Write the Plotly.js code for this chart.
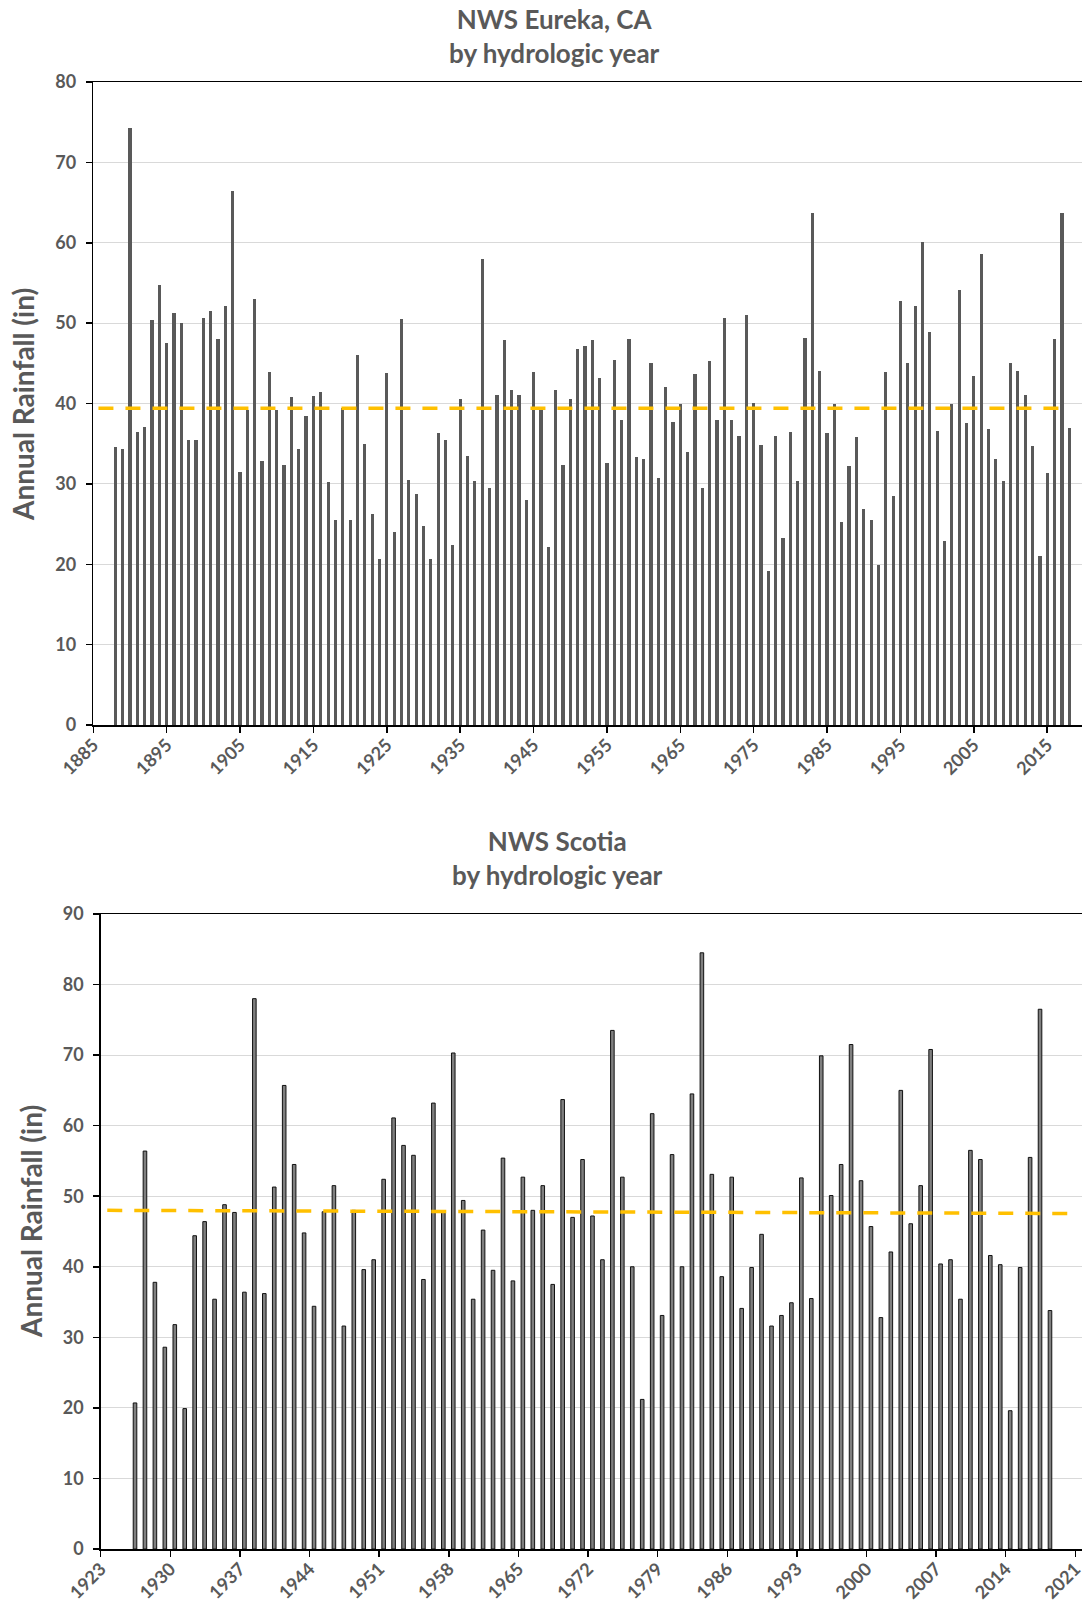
<!DOCTYPE html>
<html>
<head>
<meta charset="utf-8">
<script src="https://cdn.plot.ly/plotly-3.0.1.min.js"></script>
<style>
  html, body { margin: 0; padding: 0; background: #fff; }
  #chart { width: 1082px; height: 1606px; }
</style>
</head>
<body>
<div id="chart"></div>
<script>
// ---------- Data ----------
const eurekaYears = [];
for (let y = 1888; y <= 2018; y++) eurekaYears.push(y);
const eurekaRain = [
  34.6, 34.3, 74.3, 36.5, 37.1, 50.4, 54.7, 47.5, 51.2, 50.0,
  35.5, 35.5, 50.7, 51.5, 48.0, 52.1, 66.4, 31.5, 39.2, 53.0,
  32.8, 43.9, 39.2, 32.4, 40.8, 34.3, 38.4, 40.9, 41.4, 30.2,
  25.5, 39.4, 25.5, 46.0, 34.9, 26.3, 20.6, 43.8, 24.0, 50.5,
  30.5, 28.7, 24.7, 20.7, 36.3, 35.5, 22.4, 40.6, 33.5, 30.4,
  58.0, 29.5, 41.1, 47.9, 41.7, 41.1, 28.0, 43.9, 39.2, 22.1,
  41.7, 32.3, 40.6, 46.8, 47.2, 47.9, 43.2, 32.6, 45.4, 37.9,
  48.0, 33.4, 33.1, 45.0, 30.7, 42.1, 37.7, 40.0, 34.0, 43.7,
  29.5, 45.3, 38.0, 50.6, 38.0, 36.0, 51.0, 40.1, 34.8, 19.2,
  35.9, 23.3, 36.5, 30.3, 48.1, 63.7, 44.0, 36.3, 39.9, 25.3,
  32.2, 35.8, 26.9, 25.5, 19.9, 43.9, 28.5, 52.7, 45.0, 52.1,
  60.1, 48.9, 36.6, 22.9, 40.0, 54.1, 37.6, 43.4, 58.6, 36.8,
  33.1, 30.3, 45.0, 44.1, 41.0, 34.7, 21.0, 31.4, 48.0, 63.7,
  36.9
];
const eurekaAvgX = [1885.7, 2018.0];
const eurekaAvgY = [39.4, 39.4];

const scotiaYears = [];
for (let y = 1926; y <= 2018; y++) scotiaYears.push(y);
const scotiaRain = [
  20.7, 56.4, 37.8, 28.6, 31.8, 19.9, 44.4, 46.4, 35.4, 48.8,
  47.7, 36.4, 78.0, 36.2, 51.3, 65.7, 54.5, 44.8, 34.4, 47.8,
  51.5, 31.6, 48.0, 39.6, 41.0, 52.4, 61.1, 57.2, 55.8, 38.2,
  63.2, 47.7, 70.3, 49.4, 35.4, 45.2, 39.5, 55.4, 38.0, 52.7,
  48.0, 51.5, 37.5, 63.7, 47.0, 55.2, 47.2, 41.0, 73.5, 52.7,
  40.0, 21.2, 61.7, 33.1, 55.9, 40.0, 64.5, 84.5, 53.1, 38.6,
  52.7, 34.1, 39.9, 44.6, 31.6, 33.1, 34.9, 52.6, 35.5, 69.9,
  50.1, 54.5, 71.5, 52.2, 45.7, 32.8, 42.1, 65.0, 46.1, 51.5,
  70.8, 40.4, 41.0, 35.4, 56.5, 55.2, 41.6, 40.3, 19.6, 39.9,
  55.5, 76.5, 33.8
];
const scotiaTrendX = [1923.66, 2021.14];
const scotiaTrendY = [48.0, 47.55];

const titleTop = 'NWS Eureka, CA<br>by hydrologic year';
const titleBottom = 'NWS Scotia<br>by hydrologic year';
const yTitle = 'Annual Rainfall (in)';

// ---------- Styling ----------
const FONT = 'Lato, Roboto, "Noto Sans", sans-serif';
const GREY = '#595959';
const W = 1082, H = 1606;
const px = v => v / W;
const py = v => 1 - v / H;

const tickFont = {family: FONT, size: 18, color: GREY, weight: 'bold'};

function xAxis(domain, range, tick0, dtick, anchor) {
  return {
    domain, range, anchor,
    tickmode: 'linear', tick0, dtick,
    tickangle: -45, ticks: 'outside', ticklen: 6, tickwidth: 1.5, tickcolor: '#000',
    ticklabelstandoff: -5, ticklabeloverflow: 'allow',
    showline: true, linecolor: '#000', linewidth: 1.5, mirror: true,
    showgrid: false, zeroline: false,
    tickfont: tickFont, fixedrange: true
  };
}
function yAxis(domain, range, anchor) {
  return {
    domain, range, anchor,
    tickmode: 'linear', tick0: 0, dtick: 10,
    ticks: 'outside', ticklen: 6, tickwidth: 1.5, tickcolor: '#000',
    showline: true, linecolor: '#000', linewidth: 1.5,
    showgrid: true, gridcolor: '#d9d9d9', gridwidth: 1,
    zeroline: false, ticklabelstandoff: 6,
    tickfont: tickFont, fixedrange: true
  };
}

const traces = [
  {
    type: 'bar', x: eurekaYears, y: eurekaRain, xaxis: 'x', yaxis: 'y',
    width: 0.44, marker: {color: '#595959', line: {width: 0}},
    hoverinfo: 'x+y'
  },
  {
    type: 'scatter', mode: 'lines', x: eurekaAvgX, y: eurekaAvgY, xaxis: 'x', yaxis: 'y',
    line: {color: '#FFC000', width: 3.5, dash: '15px,12px'}, hoverinfo: 'skip'
  },
  {
    type: 'bar', x: scotiaYears, y: scotiaRain, xaxis: 'x2', yaxis: 'y2',
    width: 0.36, offset: 0.45 - 0.18,
    marker: {color: '#7f7f7f', line: {color: '#111111', width: 1}},
    hoverinfo: 'x+y'
  },
  {
    type: 'scatter', mode: 'lines', x: scotiaTrendX, y: scotiaTrendY, xaxis: 'x2', yaxis: 'y2',
    line: {color: '#FFC000', width: 3.5, dash: '15px,12px'}, hoverinfo: 'skip'
  }
];

const layout = {
  width: W, height: H,
  margin: {l: 0, r: 0, t: 0, b: 0},
  paper_bgcolor: '#fff', plot_bgcolor: '#fff',
  showlegend: false,
  bargap: 0,
  xaxis: xAxis([px(93.3), 1], [1885, 2019.74], 1885, 10, 'y'),
  yaxis: yAxis([py(725), py(82)], [0, 80], 'x'),
  xaxis2: xAxis([px(100.7), 1], [1923, 2021.67], 1923, 7, 'y2'),
  yaxis2: yAxis([py(1549), py(914)], [0, 90], 'x2'),
  annotations: [
    {text: titleTop, xref: 'paper', yref: 'paper', x: px(554), y: py(36),
     xanchor: 'center', yanchor: 'middle', showarrow: false,
     font: {family: FONT, size: 26, color: GREY, weight: 'bold'}},
    {text: titleBottom, xref: 'paper', yref: 'paper', x: px(557), y: py(858),
     xanchor: 'center', yanchor: 'middle', showarrow: false,
     font: {family: FONT, size: 26, color: GREY, weight: 'bold'}},
    {text: yTitle, xref: 'paper', yref: 'paper', x: px(23), y: py(405), textangle: -90,
     xanchor: 'center', yanchor: 'middle', showarrow: false,
     font: {family: FONT, size: 28, color: GREY, weight: 'bold'}},
    {text: yTitle, xref: 'paper', yref: 'paper', x: px(31), y: py(1222), textangle: -90,
     xanchor: 'center', yanchor: 'middle', showarrow: false,
     font: {family: FONT, size: 28, color: GREY, weight: 'bold'}}
  ]
};

Plotly.newPlot('chart', traces, layout, {staticPlot: true, displayModeBar: false});
</script>
</body>
</html>
